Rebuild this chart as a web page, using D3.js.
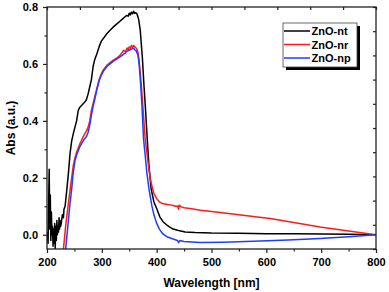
<!DOCTYPE html>
<html>
<head>
<meta charset="utf-8">
<script src="https://cdn.jsdelivr.net/npm/d3@7"></script>
<style>
  html, body { margin: 0; padding: 0; background: #fff; }
  svg { display: block; }
  text { font-family: "Liberation Sans", Arial, sans-serif; font-weight: bold; fill: #000; }
</style>
</head>
<body>
<svg id="chart" width="389" height="292"></svg>
<script>
// ---------------- data ----------------
const seriesNames = ["ZnO-nt", "ZnO-nr", "ZnO-np"];
const seriesColors = ["#000000", "#ff1a1a", "#1f3cff"];

const ntWave = [200,202,203,204,205,206,207,208,209,210,211,212,213,214,215,216,217,218,219,220,221,222,223,224,225,226,228,230,231,233,236,239,242,245,248,251,254,257,260,263,266,269,272,275,278,281,284,287,291,295,299,303,309,315,321,327,333,339,345,348,350,352,354,356,358,360,362,364,367,370,374,377,380,383,386,390,395,400,406,412,418,424,430,440,452,470,500,550,600,650,700,750,800];
const ntAbs  = [0.01,-0.03,0.12,0.23,0.02,0.14,-0.02,0.08,0.0,0.03,-0.04,0.02,-0.03,0.04,-0.05,0.03,-0.02,0.05,0.0,0.03,0.01,0.06,0.02,0.05,0.03,0.04,0.07,0.06,0.09,0.10,0.156,0.215,0.285,0.33,0.355,0.378,0.40,0.437,0.448,0.454,0.46,0.466,0.475,0.495,0.52,0.545,0.59,0.615,0.636,0.66,0.68,0.69,0.706,0.718,0.73,0.74,0.75,0.76,0.77,0.768,0.778,0.772,0.782,0.776,0.785,0.778,0.78,0.776,0.758,0.72,0.62,0.52,0.43,0.33,0.24,0.16,0.115,0.092,0.062,0.045,0.035,0.027,0.02,0.015,0.01,0.008,0.006,0.005,0.004,0.004,0.003,0.002,0.0];

const nrWave = [230,232,234,236,239,242,245,248,251,254,257,260,263,266,269,272,275,278,281,284,287,291,295,299,303,309,315,321,327,333,337,340,343,346,348,350,352,354,356,358,360,363,366,368,370,373,376,379,382,385,388,391,395,400,405,410,415,420,425,430,435,438,440,441,445,450,461,480,500,516,550,580,607,650,698,750,800];
const nrAbs  = [-0.05,-0.01,0.03,0.063,0.11,0.156,0.2,0.244,0.27,0.29,0.305,0.32,0.332,0.345,0.355,0.365,0.378,0.40,0.437,0.46,0.484,0.515,0.545,0.565,0.58,0.595,0.605,0.613,0.62,0.63,0.64,0.648,0.643,0.656,0.65,0.66,0.655,0.665,0.658,0.665,0.66,0.655,0.64,0.61,0.571,0.5,0.42,0.338,0.29,0.244,0.2,0.174,0.145,0.127,0.115,0.11,0.108,0.106,0.105,0.103,0.10,0.101,0.09,0.104,0.098,0.095,0.092,0.086,0.082,0.078,0.07,0.063,0.057,0.043,0.027,0.013,0.0];

const npWave = [234,236,238,240,242,245,248,251,254,257,260,263,266,269,272,275,278,281,284,287,291,295,299,303,309,315,321,327,333,337,340,343,346,350,354,358,360,363,366,368,370,373,376,379,382,386,391,395,400,405,410,415,420,430,438,440,442,450,479,520,576,640,698,750,800];
const npAbs  = [-0.05,-0.01,0.03,0.07,0.11,0.16,0.22,0.26,0.28,0.295,0.31,0.32,0.33,0.338,0.345,0.36,0.385,0.42,0.45,0.475,0.51,0.54,0.56,0.575,0.59,0.60,0.61,0.617,0.625,0.63,0.635,0.638,0.645,0.648,0.652,0.655,0.65,0.645,0.63,0.60,0.55,0.46,0.338,0.28,0.22,0.16,0.104,0.07,0.04,0.02,0.006,-0.002,-0.008,-0.015,-0.02,-0.028,-0.02,-0.024,-0.027,-0.026,-0.023,-0.018,-0.013,-0.007,0.0];

const xTicks = [200,300,400,500,600,700,800];
const xMinor = [250,350,450,550,650,750];
const yTicks = [0.0,0.2,0.4,0.6,0.8];
const yMinor = [0.1,0.3,0.5,0.7];

// ---------------- layout ----------------
const svg = d3.select("#chart");
const L = 47, R = 376, T = 7, B = 249;

const x = d3.scaleLinear().domain([200, 800]).range([L, R]);
const y = d3.scaleLinear().domain([-0.05, 0.8]).range([B, T]);
// mirror axes: ten equal divisions
const xTop = d3.scaleLinear().domain([0, 10]).range([L, R]);
const yRight = d3.scaleLinear().domain([0, 10]).range([B, T]);

svg.append("defs").append("clipPath").attr("id", "clip")
  .append("rect").attr("x", L).attr("y", T).attr("width", R - L).attr("height", B - T);

// series
const series = [
  {w: ntWave, a: ntAbs},
  {w: nrWave, a: nrAbs},
  {w: npWave, a: npAbs}
];
const line = d3.line().x(d => x(d[0])).y(d => y(d[1]));
const g = svg.append("g").attr("clip-path", "url(#clip)");
series.forEach((s, i) => {
  const pts = s.w.map((w, j) => [w, s.a[j]]);
  g.append("path").datum(pts)
    .attr("d", line)
    .attr("fill", "none")
    .attr("stroke", seriesColors[i])
    .attr("stroke-width", 1.5)
    .attr("stroke-linejoin", "round");
});

// axes
const axColor = "#222";
function styleAxis(sel) {
  sel.select(".domain").remove();
  sel.selectAll(".tick line").attr("stroke", axColor).attr("stroke-width", 1.2);
  sel.selectAll("text").style("font-size", "11px").style("font-weight", "bold")
     .style("font-family", '"Liberation Sans", Arial, sans-serif').attr("fill", "#000");
}
// bottom major
svg.append("g").attr("transform", `translate(0,${B})`)
  .call(d3.axisBottom(x).tickValues(xTicks).tickSize(4).tickPadding(5).tickFormat(d3.format("d")))
  .call(styleAxis);
svg.append("g").attr("transform", `translate(0,${B})`)
  .call(d3.axisBottom(x).tickValues(xMinor).tickSize(2.5).tickFormat(""))
  .call(styleAxis);
// left
svg.append("g").attr("transform", `translate(${L},0)`)
  .call(d3.axisLeft(y).tickValues(yTicks).tickSize(4).tickPadding(5).tickFormat(d3.format(".1f")))
  .call(styleAxis);
svg.append("g").attr("transform", `translate(${L},0)`)
  .call(d3.axisLeft(y).tickValues(yMinor).tickSize(2.5).tickFormat(""))
  .call(styleAxis);
// top (inward)
svg.append("g").attr("transform", `translate(0,${T})`)
  .call(d3.axisTop(xTop).ticks(10).tickSize(-3).tickFormat(""))
  .call(styleAxis);
// right (inward)
svg.append("g").attr("transform", `translate(${R},0)`)
  .call(d3.axisRight(yRight).ticks(10).tickSize(-3).tickFormat(""))
  .call(styleAxis);

// frame
svg.append("rect").attr("x", L).attr("y", T).attr("width", R - L).attr("height", B - T)
  .attr("fill", "none").attr("stroke", axColor).attr("stroke-width", 1.3);

// axis titles
svg.append("text").attr("x", (L + R) / 2).attr("y", 287)
  .attr("text-anchor", "middle").style("font-size", "12px").text("Wavelength [nm]");
svg.append("text").attr("transform", `translate(15,${(T + B) / 2}) rotate(-90)`)
  .attr("text-anchor", "middle").style("font-size", "12px").text("Abs (a.u.)");

// legend
const lg = svg.append("g");
const lx = 283, ly = 23, lw = 74, lh = 44;
lg.append("rect").attr("x", lx + 3).attr("y", ly + 3).attr("width", lw).attr("height", lh).attr("fill", "#000");
lg.append("rect").attr("x", lx).attr("y", ly).attr("width", lw).attr("height", lh)
  .attr("fill", "#fff").attr("stroke", "#444").attr("stroke-width", 0.8);
seriesNames.forEach((n, i) => {
  const yy = ly + 8 + i * 13.5;
  lg.append("line").attr("x1", lx + 1).attr("x2", lx + 27).attr("y1", yy).attr("y2", yy)
    .attr("stroke", seriesColors[i]).attr("stroke-width", 1.5);
  lg.append("text").attr("x", lx + 28.5).attr("y", yy + 4).style("font-size", "11px").text(n);
});
</script>
</body>
</html>
